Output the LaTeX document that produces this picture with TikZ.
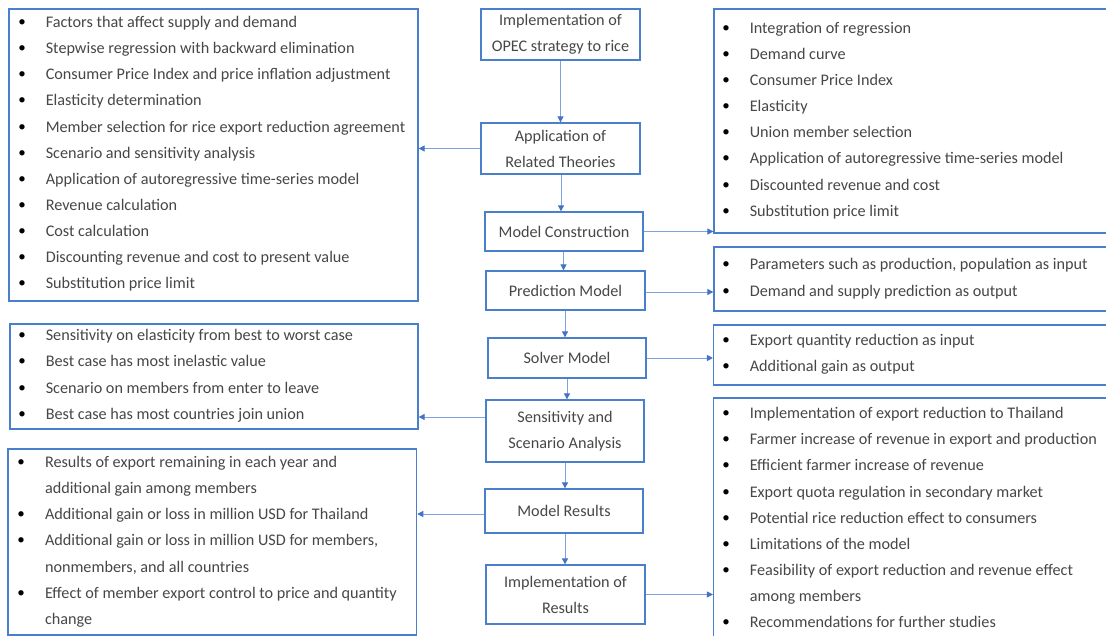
\documentclass[tikz,border=0pt]{standalone}
\usepackage{fontspec}
\setmainfont{Carlito}
\usetikzlibrary{arrows.meta,calc}
\definecolor{boxblue}{HTML}{4A7FCB}
\definecolor{arrline}{HTML}{7FA3DE}
\definecolor{arrhead}{HTML}{4472C4}
\definecolor{txt}{HTML}{474747}
\newcommand\mylist[4]{%
  \foreach \itemY/\itemB/\itemT [count=\i] in {#4}{%
    \node[itemtext] (#1-\i) at (#3,\itemY+2.5) {\itemT};
    \ifnum\itemB=1 \node[bul] (#1-b\i) at (#2,\itemY) {\textbullet};\fi
  }%
}
\begin{document}
\begin{tikzpicture}[x=1pt,y=-1pt,
  box/.style={draw=boxblue, line width=1.3pt, rectangle, inner sep=0pt},
  cbox/.style={box, align=center, text=txt, font=\fontsize{16.2}{26}\selectfont},
  itemtext/.style={anchor=mid west, inner sep=0pt, text=txt, font=\fontsize{16.2}{26}\selectfont},
  bul/.style={inner sep=0pt, text=black, font=\fontsize{15}{15}\selectfont},
  arr/.style={draw=arrline, line width=0.9pt, -{Triangle[length=6pt,width=6pt,color=arrhead]}}
]
\useasboundingbox (0,0) rectangle (1106,636);
\fill[white] (0,0) rectangle (1106,636);
\begin{scope}
\clip (0,0) rectangle (1106,636);
% list boxes
\node[box, minimum width=409pt, minimum height=292pt] (L1) at (213.5,155) {};
\node[box, minimum width=408pt, minimum height=105pt] (L2) at (214,376.5) {};
\node[box, minimum width=408.6pt, minimum height=186pt] (L3) at (212.3,542) {};
\node[box, minimum width=396pt, minimum height=224pt] (R1) at (912,121) {};
\node[box, minimum width=396pt, minimum height=64pt] (R2) at (912,279) {};
\node[box, minimum width=396.4pt, minimum height=60pt] (R3) at (911.8,355) {};
\node[box, minimum width=396.4pt, minimum height=242pt] (R4) at (911.8,519) {};
% center boxes
\node[cbox, minimum width=159pt, minimum height=51pt] (c1) at (560.5,34.5) {Implementation of\\OPEC strategy to rice};
\node[cbox, minimum width=159pt, minimum height=51pt] (c2) at (560.5,148.5) {Application of\\Related Theories};
\node[cbox, minimum width=158pt, minimum height=39pt] (c3) at (564,231.5) {Model Construction};
\node[cbox, minimum width=159pt, minimum height=39pt] (c4) at (565.5,290.5) {Prediction Model};
\node[cbox, minimum width=158pt, minimum height=40pt] (c5) at (567,358) {Solver Model};
\node[cbox, minimum width=158pt, minimum height=62pt] (c6) at (565,431) {Sensitivity and\\Scenario Analysis};
\node[cbox, minimum width=158pt, minimum height=44pt] (c7) at (564,511) {Model Results};
\node[cbox, minimum width=159pt, minimum height=59pt] (c8) at (565.5,594.5) {Implementation of\\Results};
% lists
\mylist{l1}{22}{45.6}{
 {23/1/Factors that affect supply and demand},
 {49/1/Stepwise regression with backward elimination},
 {75/1/Consumer Price Index and price inflation adjustment},
 {101/1/Elasticity determination},
 {128/1/Member selection for rice export reduction agreement},
 {154/1/Scenario and sensitivity analysis},
 {180/1/Application of autoregressive time-series model},
 {206/1/Revenue calculation},
 {232/1/Cost calculation},
 {258/1/Discounting revenue and cost to present value},
 {284/1/Substitution price limit}}
\mylist{l2}{22}{45.6}{
 {336/1/Sensitivity on elasticity from best to worst case},
 {362/1/Best case has most inelastic value},
 {389/1/Scenario on members from enter to leave},
 {415/1/Best case has most countries join union}}
\mylist{l3}{21}{44.8}{
 {463/1/Results of export remaining in each year and},
 {489/0/additional gain among members},
 {515/1/Additional gain or loss in million USD for Thailand},
 {541/1/Additional gain or loss in million USD for members,},
 {568/0/nonmembers, and all countries},
 {594/1/Effect of member export control to price and quantity},
 {620/0/change}}
\mylist{r1}{726}{749.6}{
 {29/1/Integration of regression},
 {55/1/Demand curve},
 {81/1/Consumer Price Index},
 {107/1/Elasticity},
 {133/1/Union member selection},
 {159/1/Application of autoregressive time-series model},
 {186/1/Discounted revenue and cost},
 {212/1/Substitution price limit}}
\mylist{r2}{726}{749.6}{
 {265/1/Parameters such as production, population as input},
 {292/1/Demand and supply prediction as output}}
\mylist{r3}{726}{749.6}{
 {341/1/Export quantity reduction as input},
 {367/1/Additional gain as output}}
\mylist{r4}{726}{749.6}{
 {414/1/Implementation of export reduction to Thailand},
 {440/1/Farmer increase of revenue in export and production},
 {466/1/Efficient farmer increase of revenue},
 {493/1/Export quota regulation in secondary market},
 {519/1/Potential rice reduction effect to consumers},
 {545/1/Limitations of the model},
 {571/1/Feasibility of export reduction and revenue effect},
 {597/0/among members},
 {623/1/Recommendations for further studies}}
% vertical arrows
\draw[arr] (c1.south) -- (c1.south |- c2.north);
\draw[arr] ([xshift=0.5pt]c2.south) -- ([xshift=0.5pt]c2.south |- c3.north);
\draw[arr] ([xshift=-0.5pt]c3.south) -- ([xshift=-0.5pt]c3.south |- c4.north);
\draw[arr] ([xshift=-0.5pt]c4.south) -- ([xshift=-0.5pt]c4.south |- c5.north);
\draw[arr] (c5.south) -- (c5.south |- c6.north);
\draw[arr] (c6.south) -- (c6.south |- c7.north);
\draw[arr] ([xshift=1pt]c7.south) -- ([xshift=1pt]c7.south |- c8.north);
% horizontal arrows
\draw[arr] (c2.west) -- (c2.west -| L1.east);
\draw[arr] (c3.east) -- (c3.east -| R1.west);
\draw[arr] ([yshift=-1.5pt]c4.east) -- ([yshift=-1.5pt]c4.east -| R2.west);
\draw[arr] (c5.east) -- (c5.east -| R3.west);
\draw[arr] ([yshift=14pt]c6.west) -- ([yshift=14pt]c6.west -| L2.east);
\draw[arr] ([yshift=-3pt]c7.west) -- ([yshift=-3pt]c7.west -| L3.east);
\draw[arr] (c8.east) -- (c8.east -| R4.west);
\end{scope}
\end{tikzpicture}
\end{document}
